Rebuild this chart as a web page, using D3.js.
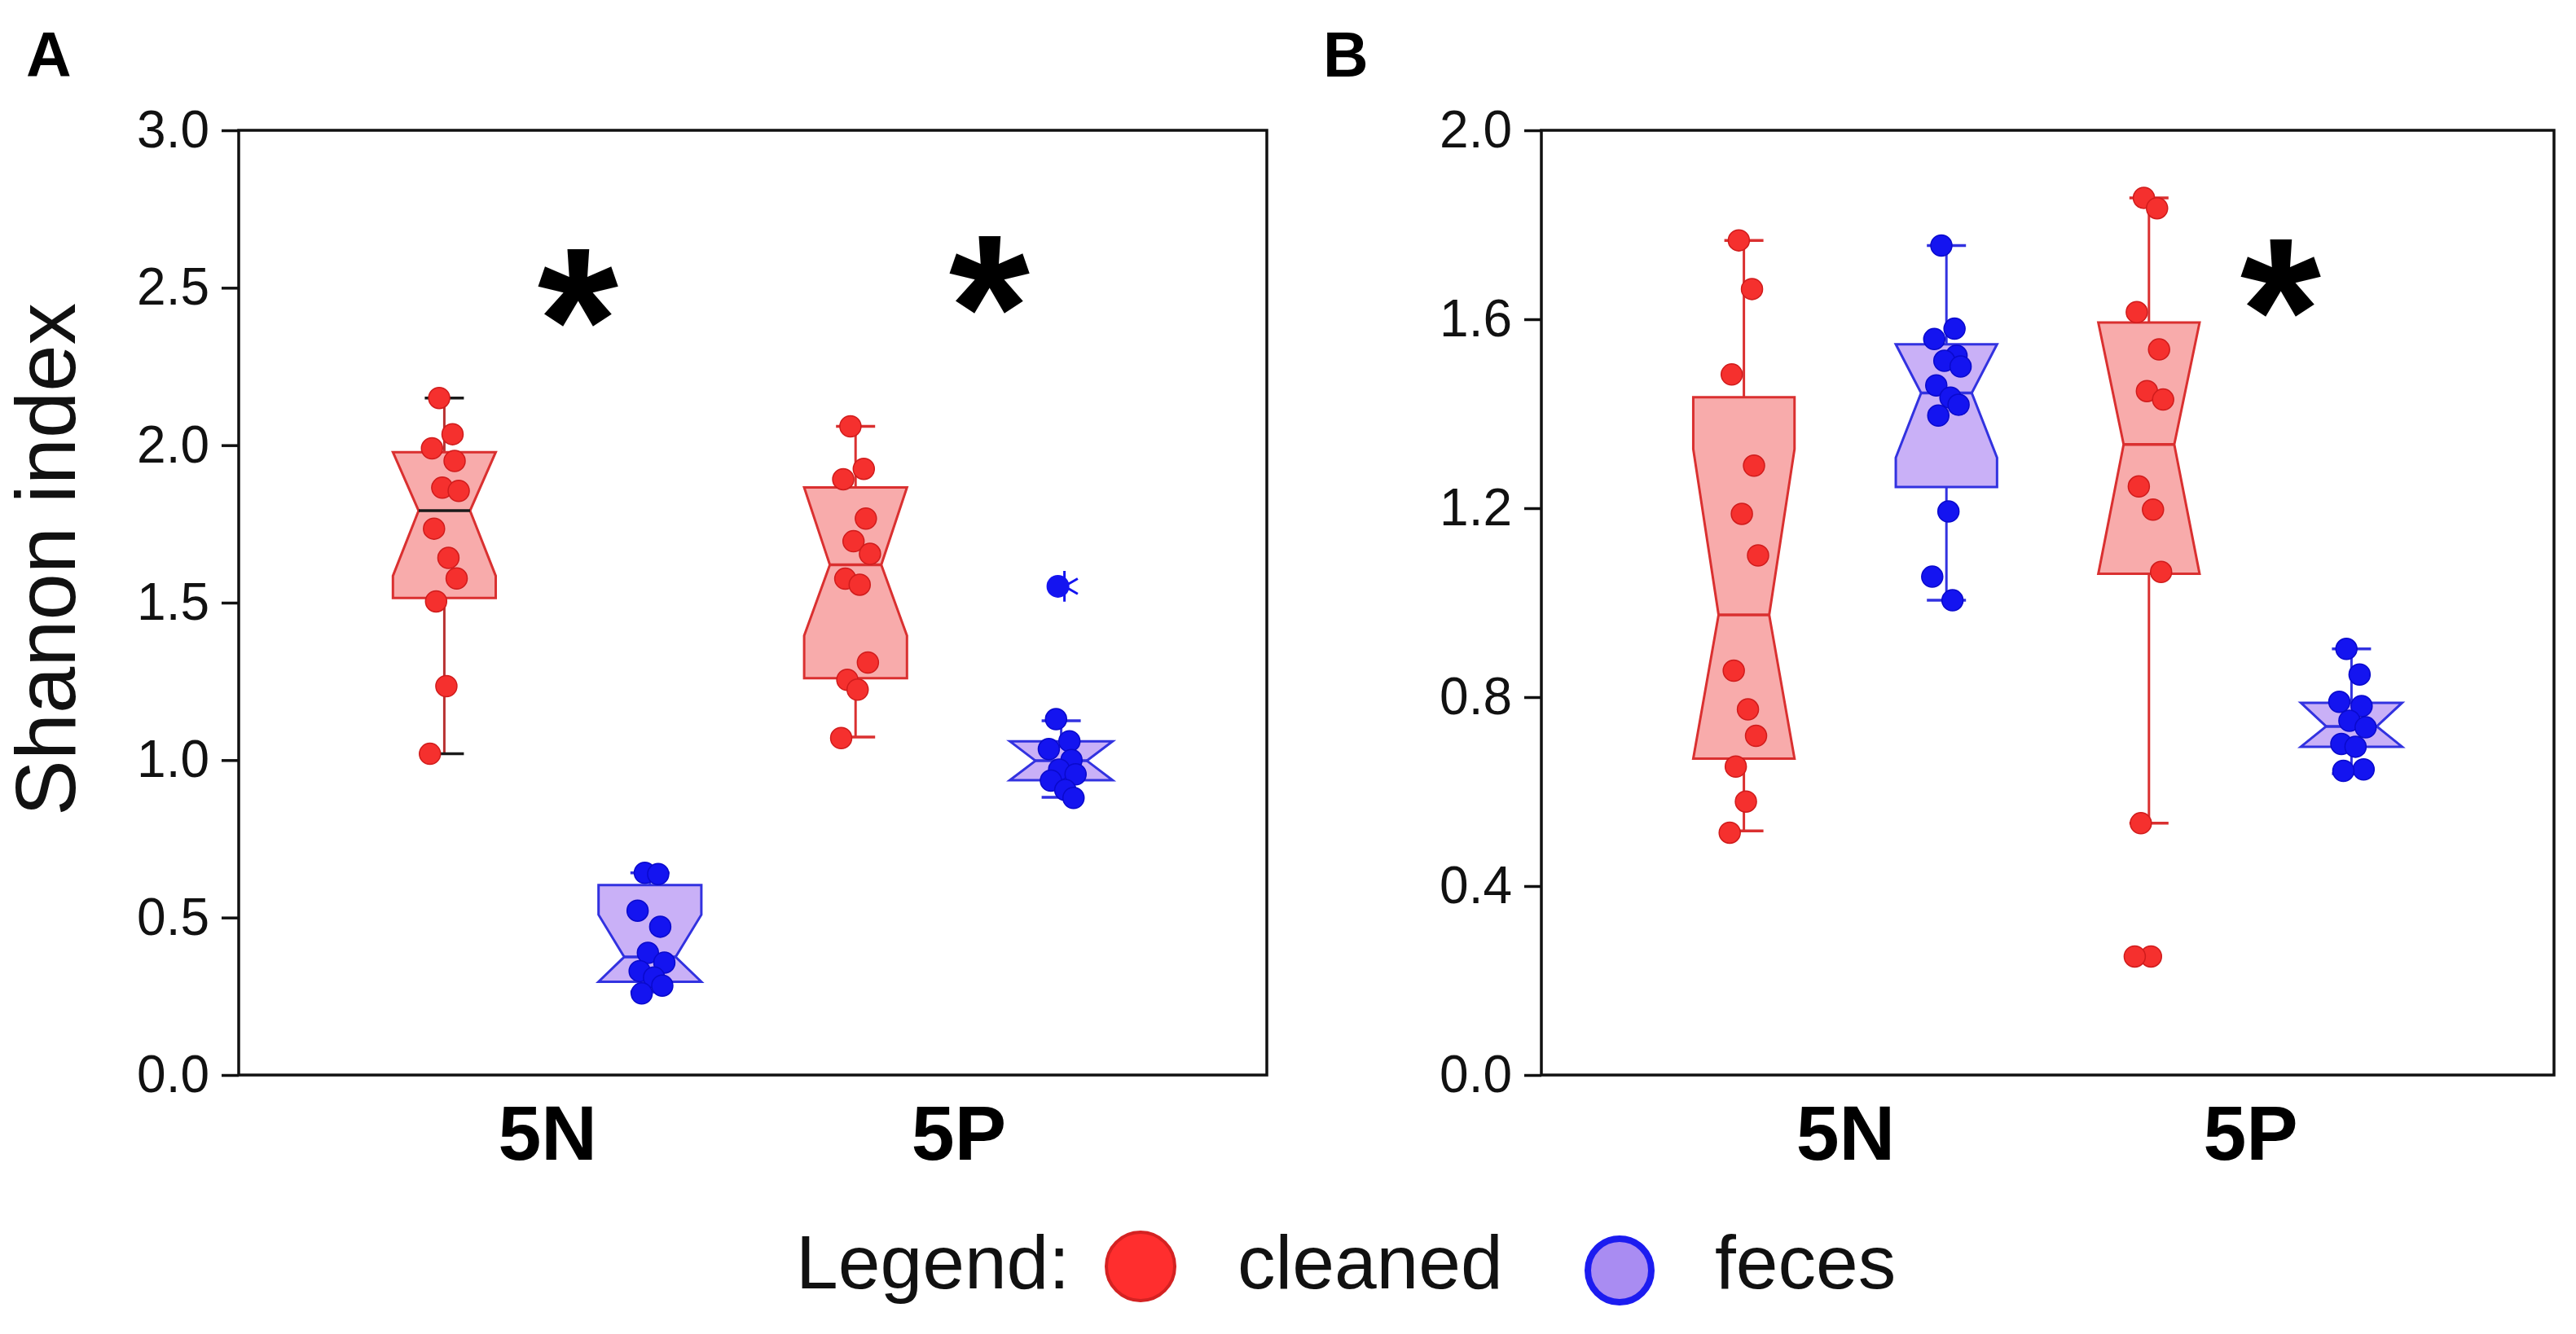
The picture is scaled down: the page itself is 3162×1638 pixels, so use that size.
<!DOCTYPE html>
<html>
<head>
<meta charset="utf-8">
<script src="https://d3js.org/d3.v7.min.js"></script>
<style>
  body { margin: 0; background: #fff; }
  text { font-family: Arial, "Liberation Sans", sans-serif; }
</style>
</head>
<body>
<div class="fig"></div>
<script>
//////// data
var categories = ["5N", "5P"];
var groups = ["cleaned", "feces"];

var ticksA = [0.0, 0.5, 1.0, 1.5, 2.0, 2.5, 3.0];
var ticksB = [0.0, 0.4, 0.8, 1.2, 1.6, 2.0];

// [category, group, whisker low, q1, median, q3, whisker high, notch low, notch high]
var boxStatsA = [
    ["5N", "cleaned", 1.02, 1.515, 1.792, 1.978, 2.15, 1.585, 1.978],
    ["5N", "feces",   0.264, 0.296, 0.375, 0.603, 0.642, 0.296, 0.509],
    ["5P", "cleaned", 1.073, 1.26, 1.62, 1.866, 2.06, 1.395, 1.866],
    ["5P", "feces",   0.882, 0.936, 0.998, 1.06, 1.125, 0.936, 1.06]
];
var boxStatsB = [
    ["5N", "cleaned", 0.517, 0.67, 0.974, 1.435, 1.767, 0.67, 1.325],
    ["5N", "feces",   1.005, 1.245, 1.444, 1.547, 1.756, 1.307, 1.547],
    ["5P", "cleaned", 0.533, 1.061, 1.335, 1.593, 1.857, 1.061, 1.593],
    ["5P", "feces",   0.638, 0.695, 0.738, 0.788, 0.902, 0.695, 0.788]
];

// individual samples
var pointsA5Ncleaned = [2.15, 2.035, 1.99, 1.95, 1.865, 1.855, 1.735, 1.642, 1.577, 1.504, 1.235, 1.02];
var pointsA5Nfeces   = [0.642, 0.638, 0.522, 0.471, 0.388, 0.357, 0.33, 0.31, 0.284, 0.259];
var pointsA5Pcleaned = [2.06, 1.925, 1.892, 1.767, 1.695, 1.655, 1.576, 1.557, 1.31, 1.255, 1.224, 1.07];
var pointsA5Pfeces   = [1.13, 1.06, 1.035, 1.0, 0.97, 0.955, 0.935, 0.905, 0.88];
var pointsB5Ncleaned = [1.767, 1.664, 1.483, 1.29, 1.188, 1.10, 0.856, 0.774, 0.718, 0.653, 0.579, 0.513];
var pointsB5Nfeces   = [1.756, 1.58, 1.558, 1.523, 1.512, 1.50, 1.46, 1.434, 1.419, 1.396, 1.193, 1.055, 1.005];
var pointsB5Pcleaned = [1.857, 1.835, 1.615, 1.536, 1.448, 1.43, 1.246, 1.197, 1.065, 0.533, 0.251, 0.251];
var pointsB5Pfeces   = [0.902, 0.848, 0.79, 0.781, 0.75, 0.736, 0.701, 0.695, 0.647, 0.644];

// outliers drawn with the star marker
var outliersA = [["5P", "feces", 1.552]];
var outliersB = [];

// significance stars: [category, height in axis units]
var sigA = [["5N", 2.49], ["5P", 2.53]];
var sigB = [["5P", 1.68]];

//////// styles
var fillColor = { cleaned: "#f8abab", feces: "#c9b0f7" };
var lineColor = { cleaned: "#da3030", feces: "#3232e0" };
var dotFill = { cleaned: "#f5302e", feces: "#1414f0" };
var dotStroke = { cleaned: "#d01c1c", feces: "#0a0acc" };

// small fixed spread so the dots don't sit on one line
var spread = [-0.05, 0.08, -0.12, 0.1, -0.02, 0.14, -0.1, 0.04, 0.12, -0.08, 0.02, -0.14, 0.06];

var width = 3162;
var height = 1638;

var svg = d3.select(".fig")
    .append("svg")
    .attr("width", width)
    .attr("height", height);

svg.append("rect")
    .attr("width", width)
    .attr("height", height)
    .attr("fill", "#fff");

function drawPanel(opt) {
    var g = svg.append("g");
    var W = opt.x1 - opt.x0;

    var x = d3.scalePoint()
        .domain(categories)
        .range([opt.x0, opt.x1])
        .padding(0.75);

    var sub = d3.scaleBand()
        .domain(groups)
        .range([-0.2 * W, 0.2 * W])
        .paddingInner(0.5)
        .paddingOuter(0.25);

    var bw = sub.bandwidth();

    var y = d3.scaleLinear()
        .domain(opt.domain)
        .range([opt.y1, opt.y0]);

    function cx(cat, grp) {
        return x(cat) + sub(grp) + bw / 2;
    }

    // left axis
    var yAxis = g.append("g")
        .attr("transform", "translate(" + opt.x0 + ",0)")
        .call(d3.axisLeft(y)
            .tickValues(opt.ticks)
            .tickFormat(d3.format(".1f"))
            .tickSize(21)
            .tickPadding(15));
    yAxis.select(".domain").remove();
    yAxis.selectAll("line").attr("stroke", "#111").attr("stroke-width", 3.5);
    yAxis.selectAll("text")
        .attr("font-size", "64px")
        .attr("fill", "#111")
        .attr("font-family", "Arial, 'Liberation Sans', sans-serif");

    // category labels
    var xAxis = g.append("g")
        .attr("transform", "translate(0," + opt.y1 + ")")
        .call(d3.axisBottom(x).tickSize(0).tickPadding(37));
    xAxis.select(".domain").remove();
    xAxis.selectAll("text")
        .attr("font-size", "95px")
        .attr("font-weight", "bold")
        .attr("fill", "#000")
        .attr("font-family", "Arial, 'Liberation Sans', sans-serif");

    // boxes
    opt.boxes.forEach(function(b) {
        var cat = b[0], grp = b[1];
        var c = cx(cat, grp);
        var left = c - bw / 2, right = c + bw / 2;
        var nw = bw * 0.25;
        var dark = opt.darkBox === cat + "-" + grp;
        var accent = dark ? "#1a1a1a" : lineColor[grp];
        var whisk = dark ? "#b83030" : lineColor[grp];

        // whiskers
        g.append("line")
            .attr("x1", c).attr("x2", c)
            .attr("y1", y(b[6])).attr("y2", y(b[5]))
            .attr("stroke", whisk).attr("stroke-width", 3);
        g.append("line")
            .attr("x1", c).attr("x2", c)
            .attr("y1", y(b[3])).attr("y2", y(b[2]))
            .attr("stroke", whisk).attr("stroke-width", 3);
        [b[2], b[6]].forEach(function(v) {
            g.append("line")
                .attr("x1", c - 24).attr("x2", c + 24)
                .attr("y1", y(v)).attr("y2", y(v))
                .attr("stroke", accent).attr("stroke-width", 3.5);
        });

        // notched box
        var pts = [
            [left, y(b[5])], [left, y(b[8])], [c - nw, y(b[4])], [left, y(b[7])], [left, y(b[3])],
            [right, y(b[3])], [right, y(b[7])], [c + nw, y(b[4])], [right, y(b[8])], [right, y(b[5])]
        ];
        g.append("path")
            .attr("d", d3.line()(pts) + "Z")
            .attr("fill", fillColor[grp])
            .attr("stroke", lineColor[grp])
            .attr("stroke-width", 3)
            .attr("stroke-linejoin", "miter");

        g.append("line")
            .attr("x1", c - nw).attr("x2", c + nw)
            .attr("y1", y(b[4])).attr("y2", y(b[4]))
            .attr("stroke", accent).attr("stroke-width", 3.5);
    });

    // sample dots
    opt.points.forEach(function(s) {
        var c = cx(s.cat, s.grp);
        g.selectAll(null)
            .data(s.values)
            .enter()
            .append("circle")
            .attr("cx", function(d, i) { return c + spread[i % spread.length] * bw; })
            .attr("cy", function(d) { return y(d); })
            .attr("r", 13)
            .attr("fill", dotFill[s.grp])
            .attr("stroke", dotStroke[s.grp])
            .attr("stroke-width", 1.5);
    });

    // outliers (star marker)
    var star = d3.symbol().type(d3.symbolAsterisk || d3.symbolCross).size(1000);
    opt.outliers.forEach(function(o) {
        var c = cx(o[0], o[1]);
        g.append("path")
            .attr("d", star())
            .attr("transform", "translate(" + (c + 4) + "," + y(o[2]) + ")")
            .attr("fill", "none")
            .attr("stroke", dotFill[o[1]])
            .attr("stroke-width", 3);
        g.append("circle")
            .attr("cx", c - 4)
            .attr("cy", y(o[2]))
            .attr("r", 14)
            .attr("fill", dotFill[o[1]]);
    });

    // significance stars
    var starSize = 255;
    opt.sig.forEach(function(s) {
        g.append("text")
            .attr("x", x(s[0]) + 0.03 * W)
            .attr("y", y(s[1]) + starSize * 0.485)
            .attr("text-anchor", "middle")
            .attr("font-size", starSize + "px")
            .attr("font-weight", "bold")
            .attr("fill", "#000")
            .text("*");
    });

    // frame
    g.append("rect")
        .attr("x", opt.x0)
        .attr("y", opt.y0)
        .attr("width", W)
        .attr("height", opt.y1 - opt.y0)
        .attr("fill", "none")
        .attr("stroke", "#111")
        .attr("stroke-width", 3.5);

    // panel letter
    svg.append("text")
        .attr("x", opt.letterX)
        .attr("y", 94)
        .attr("font-size", "77px")
        .attr("font-weight", "bold")
        .attr("fill", "#000")
        .text(opt.letter);
}

drawPanel({
    letter: "A", letterX: 32,
    x0: 293, x1: 1555, y0: 160, y1: 1320,
    domain: [0, 3], ticks: ticksA,
    boxes: boxStatsA,
    points: [
        { cat: "5N", grp: "cleaned", values: pointsA5Ncleaned },
        { cat: "5N", grp: "feces", values: pointsA5Nfeces },
        { cat: "5P", grp: "cleaned", values: pointsA5Pcleaned },
        { cat: "5P", grp: "feces", values: pointsA5Pfeces }
    ],
    outliers: outliersA,
    sig: sigA,
    darkBox: "5N-cleaned"
});

drawPanel({
    letter: "B", letterX: 1624,
    x0: 1892, x1: 3135, y0: 160, y1: 1320,
    domain: [0, 2], ticks: ticksB,
    boxes: boxStatsB,
    points: [
        { cat: "5N", grp: "cleaned", values: pointsB5Ncleaned },
        { cat: "5N", grp: "feces", values: pointsB5Nfeces },
        { cat: "5P", grp: "cleaned", values: pointsB5Pcleaned },
        { cat: "5P", grp: "feces", values: pointsB5Pfeces }
    ],
    outliers: outliersB,
    sig: sigB,
    darkBox: null
});

//////// y axis title
svg.append("text")
    .attr("transform", "translate(92,687) rotate(-90)")
    .attr("text-anchor", "middle")
    .attr("font-size", "103px")
    .attr("fill", "#111")
    .text("Shanon index");

//////// legend
var legend = svg.append("g");
legend.append("text")
    .attr("x", 977).attr("y", 1582)
    .attr("font-size", "93px").attr("fill", "#111")
    .text("Legend:");
legend.append("circle")
    .attr("cx", 1400).attr("cy", 1555).attr("r", 42)
    .attr("fill", "#ff2e2e").attr("stroke", "#d42222").attr("stroke-width", 4);
legend.append("text")
    .attr("x", 1519).attr("y", 1582)
    .attr("font-size", "93px").attr("fill", "#111")
    .text("cleaned");
legend.append("circle")
    .attr("cx", 1988).attr("cy", 1560).attr("r", 39)
    .attr("fill", "#a98cf2").attr("stroke", "#1c1cf0").attr("stroke-width", 8);
legend.append("text")
    .attr("x", 2105).attr("y", 1582)
    .attr("font-size", "93px").attr("fill", "#111")
    .text("feces");
</script>
</body>
</html>
